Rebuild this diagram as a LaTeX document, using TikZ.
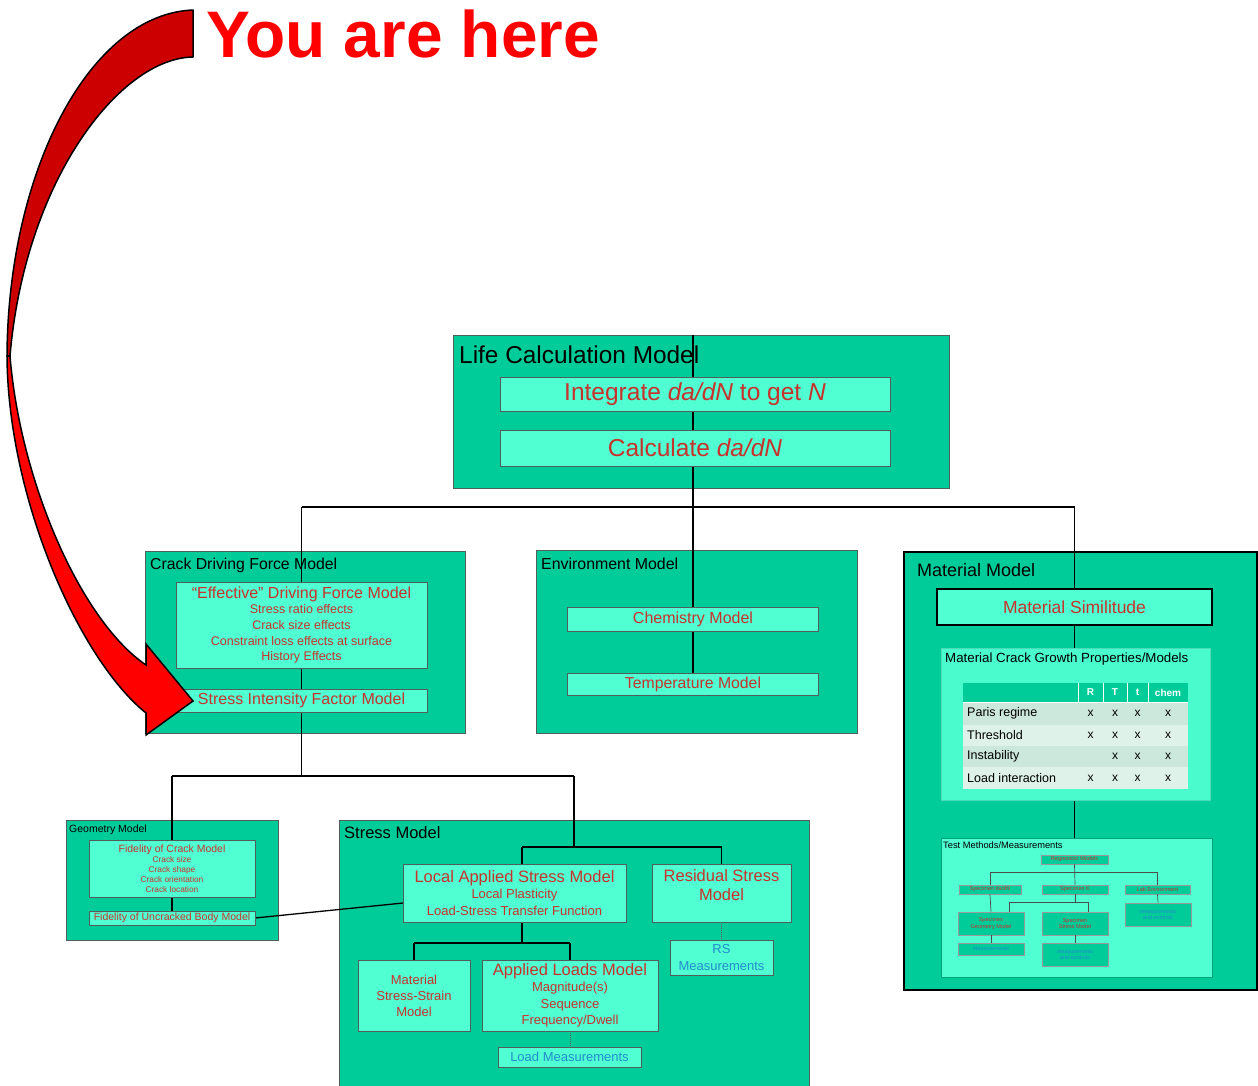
\documentclass[tikz,border=0pt]{standalone}
\usepackage{fontspec}
\setmainfont{Liberation Sans}
\newfontfamily\herefont{Liberation Sans Bold}
\usepackage{tikz}
\usetikzlibrary{positioning}

\definecolor{panelgreen}{RGB}{0,204,153}
\definecolor{boxaqua}{RGB}{80,255,210}
\definecolor{txtred}{RGB}{200,50,45}
\definecolor{txtblue}{RGB}{35,140,205}
\definecolor{edgegray}{RGB}{80,95,90}
\definecolor{rowdark}{RGB}{204,232,220}
\definecolor{rowlight}{RGB}{222,242,234}
\definecolor{ribbonback}{RGB}{204,0,0}
\newcommand{\setfs}[2]{\fontsize{#1}{#2}\selectfont}

\begin{document}
\begin{tikzpicture}[x=1pt, y=-1pt,
  panel/.style={draw=edgegray, line width=1pt, fill=panelgreen, inner sep=0pt},
  sub/.style={draw=edgegray, line width=1pt, fill=boxaqua, inner sep=0pt,
              align=center, text=txtred},
  ttl/.style={anchor=base west, inner sep=0pt, text=black},
  ln/.style={black, line width=1.3pt},
  tln/.style={black!70, line width=0.7pt},
  meas/.style={black!65, line width=1pt, densely dotted},
  tinybox/.style={draw=black!40, line width=0.6pt, fill=panelgreen, inner sep=0pt,
                  align=center, text=txtred, font=\setfs{5.5}{6.5}},
  hdr/.style={text=white, font=\bfseries\setfs{10}{12}, inner sep=0pt},
  rowlbl/.style={anchor=west, inner sep=0pt, font=\setfs{12.5}{14}},
  xmk/.style={inner sep=0pt, font=\setfs{12}{14}}]
\useasboundingbox (0,0) rectangle (1258,1085);

% outer panels
\node[panel, minimum width=496, minimum height=153] (life) at (701,411.5) {};
\node[panel, minimum width=320, minimum height=182] (crack) at (305,642) {};
\node[panel, minimum width=321, minimum height=183] (env) at (696.5,641.5) {};
\node[panel, draw=black, line width=1.5pt, minimum width=353, minimum height=438] (mat) at (1080.5,771) {};
\node[panel, minimum width=212, minimum height=120] (geo) at (172,880) {};
\node[panel, minimum width=470, minimum height=270] (stress) at (574,955) {};

% junctions
\coordinate (top) at (693,507);
\coordinate (mid) at (301.5,776);
\coordinate (sj) at (574,847);
\coordinate (sjl) at (522,847);
\coordinate (sjr) at (721.5,847);
\coordinate (lj) at (522,943);

% tree
\draw[ln] (top |- life.north) -- (top);
\draw[ln] (mid |- top) -- (1074.5,507);
\draw[ln] (mid |- top) -- (mid);
\draw[ln] (top) -- (693,695);
\draw[ln] (1074.5,507) -- (1074.5,855);
\draw[ln] (172,776) -- (stress |- mid);
\draw[ln] (172,776) -- (172,911);
\draw[ln] (stress |- mid) -- (sj);
\draw[ln] (sjl) -- (sjr);
\draw[ln] (sjl) -- (sjl |- 0,864);
\draw[ln] (sjr) -- (sjr |- 0,864);
\draw[ln] (sjl |- 0,922) -- (lj);
\draw[ln] (414,943) -- (570,943);
\draw[ln] (414,943) -- (414,960);
\draw[ln] (570,943) -- (570,960);
\draw[meas] (721.5,922) -- (721.5,940);
\draw[meas] (570,1031) -- (570,1047);
\draw[ln] (255,918) -- (403,903);

% material inner panels
\node[sub, draw=panelgreen!70!white, fill=boxaqua!92!panelgreen, minimum width=269, minimum height=152] (mcg) at (1075.5,724) {};
\node[sub, draw=panelgreen!80!black, minimum width=271, minimum height=139] (test) at (1076.5,907.5) {};

% test methods tree
\node[tinybox, minimum width=67, minimum height=9] (regr) at (1074.5,859.5) {Regression Models};
\node[tinybox, minimum width=62, minimum height=9] (sdadn) at (990,889.5) {Specimen da/dN};
\node[tinybox, minimum width=66, minimum height=9] (sk) at (1075,889.5) {Specimen K};
\node[tinybox, minimum width=65, minimum height=9] (lab) at (1157.5,889.5) {Lab Environment};
\node[tinybox, minimum width=66, minimum height=23] (sgeo) at (991,923.5) {Specimen\\Geometry Model};
\node[tinybox, minimum width=66, minimum height=23] (sstr) at (1075,923.5) {Specimen\\Stress Model};
\node[tinybox, text=txtblue, minimum width=66, minimum height=23] (labm) at (1158,914.5) {measurements\\and controls};
\node[tinybox, text=txtblue, minimum width=66, minimum height=12] (geom) at (991,949) {measurements};
\node[tinybox, text=txtblue, minimum width=66, minimum height=23] (strm) at (1075,954.5) {measurements\\and controls};
\draw[tln] (regr.south) -- (sk.north);
\draw[tln] (sdadn.north) |- (sk.north |- 0,872) -| (lab.north);
\draw[tln] (sdadn.south) -- (sgeo.north);
\draw[tln] (sk.south) -- (sk.south |- 0,903);
\draw[tln] ([xshift=18pt]sgeo.north) -- ++(0,-9) -| ([xshift=13pt]sstr.north);
\draw[tln] (sgeo.south) -- (geom.north);
\draw[tln] (sstr.south) -- (strm.north);
\draw[tln] (lab.south) -- (labm.north);

% inner boxes
\node[sub, minimum width=390, minimum height=34, font=\setfs{24.5}{28}] (integ) at (695,394)
  {Integrate \textit{da/dN} to get \textit{N}};
\node[sub, minimum width=390, minimum height=36, font=\setfs{24.5}{28}] (calc) at (695,448)
  {Calculate \textit{da/dN}};
\node[sub, minimum width=251, minimum height=86, font=\setfs{12.5}{15.7}] (eff) at (301.5,625)
  {{\setfs{16}{15.7}“Effective” Driving Force Model}\\Stress ratio effects\\Crack size effects\\Constraint loss effects at surface\\History Effects};
\node[sub, minimum width=251, minimum height=23, font=\setfs{16}{18}] (sif) at (301.5,700.5)
  {Stress Intensity Factor Model};
\node[sub, minimum width=251, minimum height=24, font=\setfs{16}{18}] (chem) at (693,619) {Chemistry Model};
\node[sub, minimum width=251, minimum height=22, font=\setfs{15.8}{18}] (temp) at (693,684) {Temperature Model};
\node[sub, draw=black, line width=2pt, minimum width=275, minimum height=36, font=\setfs{17.5}{20}] (ms) at (1074.5,607)
  {Material Similitude};
\node[sub, minimum width=166, minimum height=57, font=\setfs{8.3}{10}] (fcm) at (172,868.5)
  {{\setfs{10.5}{10}Fidelity of Crack Model}\\Crack size\\Crack shape\\Crack orientation\\Crack location};
\node[sub, minimum width=166, minimum height=14, font=\setfs{10.5}{12}] (fub) at (172,918)
  {Fidelity of Uncracked Body Model};
\node[sub, minimum width=223, minimum height=58, font=\setfs{13}{16.5}] (las) at (514.5,893)
  {{\setfs{16.5}{16.5}Local Applied Stress Model}\\Local Plasticity\\Load-Stress Transfer Function};
\node[sub, minimum width=139, minimum height=58, font=\setfs{16.5}{19}, text depth=16pt] (rsm) at (721.5,893)
  {Residual Stress\\Model};
\node[sub, text=txtblue, minimum width=103, minimum height=35, font=\setfs{13}{17}] (rsmeas) at (721.5,957.5)
  {RS\\Measurements};
\node[sub, minimum width=112, minimum height=71, font=\setfs{13}{16}] (mss) at (414,995.5)
  {Material\\Stress-Strain\\Model};
\node[sub, minimum width=176, minimum height=71, font=\setfs{13}{16.5}] (alm) at (570,995.5)
  {{\setfs{16.5}{16.5}Applied Loads Model}\\Magnitude(s)\\Sequence\\Frequency/Dwell};
\node[sub, text=txtblue, minimum width=143, minimum height=20, font=\setfs{13}{15}] (lm) at (569.5,1057)
  {Load Measurements};

% titles
\node[ttl, font=\setfs{24.4}{28}] (lifet) at (459,363) {Life Calculation Model};
\node[ttl, font=\setfs{15.8}{18}] (crackt) at (150,569) {Crack Driving Force Model};
\node[ttl, font=\setfs{15.9}{18}] (envt) at (541,569) {Environment Model};
\node[ttl, font=\setfs{18}{20}] (matt) at (917,576) {Material Model};
\node[ttl, font=\setfs{13.3}{15}] (mcgt) at (945,662.5) {Material Crack Growth Properties/Models};
\node[ttl, font=\setfs{9.3}{11}] (testt) at (943,848.5) {Test Methods/Measurements};
\node[ttl, font=\setfs{10.5}{12}] (geot) at (69,832) {Geometry Model};
\node[ttl, font=\setfs{16.5}{18}] (stresst) at (344,838) {Stress Model};

% property table
\fill[panelgreen] (963,683) rectangle (1188,702);
\fill[rowdark] (963,702) rectangle (1188,725);
\fill[rowlight] (963,725) rectangle (1188,746);
\fill[rowdark] (963,746) rectangle (1188,767);
\fill[rowlight] (963,767) rectangle (1188,789);
\draw[white, line width=1pt] (1078,683) -- (1078,702) (1103,683) -- (1103,702)
  (1127,683) -- (1127,702) (1148,683) -- (1148,702) (963,702) -- (1188,702);
\node[hdr] (hr) at (1090.5,692.5) {R};
\node[hdr] (hT) at (1115,692.5) {T};
\node[hdr] (ht) at (1137.5,692.5) {t};
\node[hdr] (hc) at (1168,692.5) {chem};
\node[rowlbl] (paris) at (967,713.5) {Paris regime};
\node[rowlbl] (thr) at (967,735.5) {Threshold};
\node[rowlbl] (inst) at (967,756.5) {Instability};
\node[rowlbl] (lint) at (967,778) {Load interaction};
\foreach \xx [count=\c] in {1090.5,1115,1137.5,1168} {
  \node[xmk] (pa\c) at (\xx,713.5) {x};
  \node[xmk] (th\c) at (\xx,735.5) {x};
  \node[xmk] (li\c) at (\xx,778) {x};
}
\foreach \xx [count=\c] in {1115,1137.5,1168}
  \node[xmk] (in\c) at (\xx,756.5) {x};

% you are here arrow
\path[fill=ribbonback, draw=black, line width=1.5pt, line join=round]
  (193,10) .. controls (90,14) and (8,170) .. (7,356)
  -- (10,356) .. controls (25,180) and (120,58) .. (193,57) -- cycle;
\path[fill=red, draw=black, line width=1.5pt, line join=miter]
  (7,356) .. controls (8,500) and (80,660) .. (146,713)
  -- (146,735) -- (193,701) -- (146,644) -- (146,665)
  .. controls (80,620) and (20,480) .. (10,356) -- cycle;
\node[anchor=base west, inner sep=0pt, text=red] (here) at (206,57)
  {\herefont\fontsize{65.8}{70}\selectfont You are here};
\end{tikzpicture}
\end{document}
